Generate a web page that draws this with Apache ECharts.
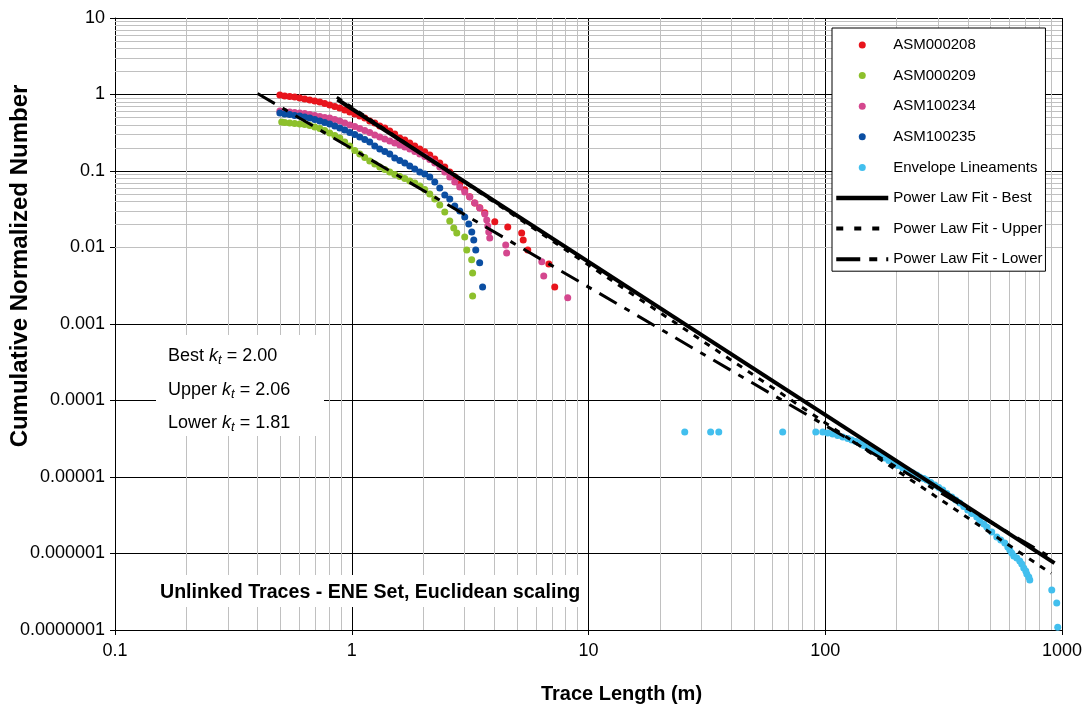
<!DOCTYPE html>
<html>
<head>
<meta charset="utf-8">
<title>Unlinked Traces - ENE Set, Euclidean scaling</title>
<script src="https://cdn.jsdelivr.net/npm/echarts@6.0.0/dist/echarts.min.js"></script>
<style>
  html, body { margin: 0; padding: 0; background: #fff; }
  #chart { width: 1084px; height: 709px; }
</style>
</head>
<body>
<div id="chart"></div>
<script>
// tick labels
const xTickLabels = ['0.1', '1', '10', '100', '1000']
const yTickLabels = ['0.0000001', '0.000001', '0.00001', '0.0001', '0.001', '0.01', '0.1', '1', '10']

// [trace length (m), cumulative normalized number]
const asm000208 = [
  [0.497, 0.985], [0.521, 0.956], [0.547, 0.94], [0.574, 0.928], [0.603, 0.90], [0.633, 0.873],
  [0.665, 0.847], [0.698, 0.822], [0.733, 0.798], [0.769, 0.763], [0.807, 0.729], [0.848, 0.697],
  [0.89, 0.666], [0.934, 0.627], [0.981, 0.59], [1.03, 0.556], [1.081, 0.523], [1.135, 0.493],
  [1.191, 0.45], [1.251, 0.424], [1.313, 0.388], [1.379, 0.365], [1.447, 0.334], [1.519, 0.305],
  [1.595, 0.271], [1.675, 0.255], [1.758, 0.233], [1.846, 0.213], [1.938, 0.194], [2.034, 0.178],
  [2.136, 0.162], [2.242, 0.144], [2.354, 0.127], [2.471, 0.113], [2.594, 0.0973], [2.723, 0.0838],
  [2.859, 0.0679], [3.001, 0.0567], [3.151, 0.046], [3.308, 0.0383], [3.473, 0.033], [3.646, 0.0284],
  [4.02, 0.0217], [4.56, 0.0186], [5.22, 0.0155], [5.3, 0.0125], [5.54, 0.0093], [6.8, 0.0061], [7.2, 0.00305]
]
const asm000209 = [
  [0.506, 0.437], [0.521, 0.4305], [0.547, 0.4241], [0.574, 0.4177], [0.603, 0.4115], [0.633, 0.4054],
  [0.665, 0.3934], [0.698, 0.376], [0.733, 0.3594], [0.769, 0.3384], [0.807, 0.3139], [0.848, 0.2911],
  [0.89, 0.27], [0.934, 0.2393], [0.981, 0.2123], [1.03, 0.1854], [1.081, 0.1669], [1.135, 0.1501],
  [1.191, 0.1351], [1.251, 0.1234], [1.313, 0.1128], [1.379, 0.1046], [1.447, 0.097], [1.519, 0.09],
  [1.595, 0.0847], [1.675, 0.0798], [1.758, 0.074], [1.846, 0.0697], [1.938, 0.0637], [2.034, 0.0573],
  [2.136, 0.05], [2.242, 0.0431], [2.354, 0.0359], [2.471, 0.0291], [2.594, 0.0222], [2.697, 0.018],
  [2.777, 0.0155],
  [3.0, 0.0137], [3.06, 0.0093], [3.21, 0.0069], [3.24, 0.00464], [3.24, 0.00232]
]
const asm100234 = [
  [0.497, 0.6086], [0.521, 0.5996], [0.547, 0.5906], [0.574, 0.5817], [0.603, 0.5731], [0.633, 0.5645],
  [0.665, 0.5477], [0.698, 0.5314], [0.733, 0.5157], [0.769, 0.5004], [0.807, 0.493], [0.848, 0.4712],
  [0.89, 0.4504], [0.934, 0.4241], [0.981, 0.3994], [1.03, 0.3817], [1.081, 0.3594], [1.135, 0.3384],
  [1.191, 0.3187], [1.251, 0.2955], [1.313, 0.2783], [1.379, 0.262], [1.447, 0.2467], [1.519, 0.2323],
  [1.595, 0.2188], [1.675, 0.206], [1.758, 0.194], [1.846, 0.1798], [1.938, 0.1669], [2.034, 0.1547],
  [2.136, 0.1413], [2.242, 0.1272], [2.354, 0.1128], [2.471, 0.097], [2.594, 0.0835], [2.723, 0.0718],
  [2.859, 0.0618], [3.001, 0.0531], [3.151, 0.0457], [3.308, 0.0382], [3.473, 0.0328], [3.646, 0.0274],
  [3.717, 0.0229], [3.753, 0.0191], [3.79, 0.0159], [3.827, 0.0133],
  [4.47, 0.0108], [4.51, 0.0085], [6.35, 0.0065], [6.47, 0.00424], [8.17, 0.0022]
]
const asm100235 = [
  [0.497, 0.5731], [0.521, 0.5559], [0.547, 0.5477], [0.574, 0.5314], [0.603, 0.5236], [0.633, 0.5081],
  [0.665, 0.493], [0.698, 0.4712], [0.733, 0.4504], [0.769, 0.4305], [0.807, 0.4115], [0.848, 0.3876],
  [0.89, 0.365], [0.934, 0.3436], [0.981, 0.3187], [1.03, 0.3001], [1.081, 0.2783], [1.135, 0.2581],
  [1.191, 0.2393], [1.251, 0.2123], [1.313, 0.194], [1.379, 0.1798], [1.447, 0.1669], [1.519, 0.1479],
  [1.595, 0.1372], [1.675, 0.1272], [1.758, 0.1162], [1.846, 0.1062], [1.938, 0.097], [2.034, 0.0913],
  [2.136, 0.0835], [2.242, 0.0718], [2.354, 0.0599], [2.471, 0.0486], [2.594, 0.0431], [2.723, 0.0349],
  [2.859, 0.03], [3.001, 0.025], [3.121, 0.0203], [3.213, 0.0159], [3.276, 0.0125],
  [3.34, 0.0093], [3.47, 0.0063], [3.57, 0.00305]
]
const envelopeLineaments = [
  [25.5, 3.875e-5], [32.8, 3.875e-5], [35.5, 3.875e-5], [66.1, 3.875e-5], [91.2, 3.875e-5],
  [97.6, 3.875e-5], [102.5, 3.76e-5], [107.6, 3.65e-5], [112.9, 3.49e-5], [118.6, 3.33e-5],
  [124.5, 3.19e-5], [129.4, 3.05e-5], [134.5, 2.91e-5], [139.9, 2.78e-5], [145.4, 2.58e-5],
  [151.2, 2.39e-5], [157.2, 2.22e-5], [165.1, 2.06e-5], [171.6, 1.91e-5], [178.4, 1.77e-5],
  [185.5, 1.64e-5], [192.8, 1.52e-5], [202.4, 1.41e-5], [212.5, 1.31e-5], [223.1, 1.22e-5],
  [234.2, 1.13e-5], [243.5, 1.06e-5], [250.7, 1.0e-5], [260.7, 9.56e-6], [268.4, 9.14e-6],
  [279.0, 8.47e-6], [290.1, 7.86e-6], [301.6, 7.29e-6], [313.6, 6.76e-6], [326.1, 6.09e-6],
  [342.3, 5.48e-6], [355.9, 5.0e-6], [370.0, 4.57e-6], [384.6, 4.12e-6], [399.9, 3.70e-6],
  [415.8, 3.33e-6], [436.5, 3.0e-6], [449.4, 2.66e-6], [467.2, 2.43e-6], [481.1, 2.22e-6],
  [505.1, 1.91e-6], [530.3, 1.64e-6], [551.3, 1.50e-6], [573.2, 1.37e-6], [590.2, 1.22e-6],
  [601.7, 1.11e-6], [613.5, 1.015e-6], [625.6, 9.28e-7], [644.1, 8.73e-7], [663.2, 7.98e-7],
  [676.1, 7.29e-7], [689.3, 6.46e-7], [703.1, 5.90e-7], [710.0, 5.40e-7], [724.0, 4.93e-7],
  [731.0, 4.50e-7], [905.2, 3.33e-7], [950.1, 2.25e-7], [959.4, 1.09e-7]
]

// power law fit end points
const fitBest = [[0.87, 0.86], [930, 7.5e-7]]
const fitUpper = [[0.865, 0.92], [900, 5.5e-7]]
const fitLower = [[0.40, 1.03], [920, 8.5e-7]]

const FONT = '"Liberation Sans", Arial, sans-serif'

// light grey lines at 2..9 of every decade
const minorX = []
for (let e = -1; e < 3; e++) for (let m = 2; m <= 9; m++) minorX.push({ xAxis: m * Math.pow(10, e) })
const minorY = []
for (let e = -7; e < 1; e++) for (let m = 2; m <= 9; m++) minorY.push({ yAxis: m * Math.pow(10, e) })

const chart = echarts.init(document.getElementById('chart'))

function scatter (name, data, color) {
  return { name, type: 'scatter', data, symbol: 'circle', symbolSize: 7, z: 3, itemStyle: { color, opacity: 1 } }
}
function fitLine (name, data, width, type) {
  return {
    name, type: 'line', data, symbol: 'none', z: 4,
    itemStyle: { color: '#000' },
    lineStyle: { color: '#000', width, type, cap: 'butt' }
  }
}
function fitLegend (name, width, type) {
  return { name, itemStyle: { opacity: 0 }, lineStyle: { color: '#000', width, type, cap: 'butt' } }
}

chart.setOption({
  animation: false,
  backgroundColor: '#fff',
  grid: { left: 115, right: 22, top: 18, bottom: 79, containLabel: false, outerBoundsMode: 'none' },
  xAxis: {
    type: 'log', logBase: 10, min: 0.1, max: 1000, splitNumber: 4,
    name: 'Trace Length (m)', nameLocation: 'middle', nameGap: 54, nameMoveOverlap: false,
    nameTextStyle: { fontFamily: FONT, fontSize: 20, fontWeight: 'bold', color: '#000', padding: [0, 0, 0, 66] },
    axisLine: { lineStyle: { color: '#000', width: 1 } },
    axisTick: { show: true, length: 5, lineStyle: { color: '#000' } },
    axisLabel: {
      margin: 12, fontFamily: FONT, fontSize: 18, color: '#000',
      formatter: v => xTickLabels[Math.round(Math.log10(v)) + 1]
    },
    splitLine: { show: true, lineStyle: { color: '#000', width: 1 } }
  },
  yAxis: {
    type: 'log', logBase: 10, min: 1e-7, max: 10, splitNumber: 8,
    name: 'Cumulative Normalized Number', nameLocation: 'middle', nameGap: 83, nameMoveOverlap: false,
    nameTextStyle: { fontFamily: FONT, fontSize: 24, fontWeight: 'bold', color: '#000', padding: [0, 0, 0, 116] },
    axisLine: { show: true, lineStyle: { color: '#000', width: 1 } },
    axisTick: { show: true, length: 5, lineStyle: { color: '#000' } },
    axisLabel: {
      margin: 10, fontFamily: FONT, fontSize: 18, color: '#000',
      formatter: v => yTickLabels[Math.round(Math.log10(v)) + 7]
    },
    splitLine: { show: true, lineStyle: { color: '#000', width: 1 } }
  },
  legend: {
    orient: 'vertical', left: 832, top: 28,
    padding: [9, 3, 4, 2],
    itemWidth: 52, itemHeight: 7, itemGap: 14.6,
    backgroundColor: '#fff', borderColor: '#000', borderWidth: 1,
    selectedMode: false,
    textStyle: { fontFamily: FONT, fontSize: 15, color: '#000', lineHeight: 16 },
    data: [
      { name: 'ASM000208', icon: 'circle' },
      { name: 'ASM000209', icon: 'circle' },
      { name: 'ASM100234', icon: 'circle' },
      { name: 'ASM100235', icon: 'circle' },
      { name: 'Envelope Lineaments', icon: 'circle' },
      fitLegend('Power Law Fit - Best', 4.5, 'solid'),
      fitLegend('Power Law Fit - Upper', 4, [7, 11]),
      fitLegend('Power Law Fit - Lower', 4, [24, 9, 8, 9])
    ]
  },
  series: [
    {
      name: 'minor grid', type: 'line', data: [], z: 1, silent: true,
      markLine: {
        z: 1, silent: true, symbol: ['none', 'none'], label: { show: false },
        lineStyle: { color: '#c0c0c0', width: 1, type: 'solid' },
        emphasis: { disabled: true },
        data: minorX.concat(minorY)
      }
    },
    scatter('ASM000208', asm000208, '#e8141c'),
    scatter('ASM000209', asm000209, '#8dc02c'),
    scatter('ASM100234', asm100234, '#d4478e'),
    scatter('ASM100235', asm100235, '#0b4ea2'),
    scatter('Envelope Lineaments', envelopeLineaments, '#42bfee'),
    fitLine('Power Law Fit - Best', fitBest, 4, 'solid'),
    fitLine('Power Law Fit - Upper', fitUpper, 3, [6, 7]),
    fitLine('Power Law Fit - Lower', fitLower, 3, [20, 9, 6, 9])
  ],
  graphic: [
    { type: 'rect', z: 100, shape: { x: 156, y: 335, width: 168, height: 101 }, style: { fill: '#fff' } },
    { type: 'rect', z: 100, shape: { x: 155, y: 575, width: 433, height: 32 }, style: { fill: '#fff' } },
    {
      type: 'text', z: 101, x: 160, y: 593,
      style: { text: 'Unlinked Traces - ENE Set, Euclidean scaling', font: 'bold 19.6px ' + FONT, fill: '#000', verticalAlign: 'middle' }
    }
  ].concat([['Best', '2.00', 356], ['Upper', '2.06', 390], ['Lower', '1.81', 423]].map(r => ({
    type: 'text', z: 101, x: 168, y: r[2],
    style: {
      text: '{n|' + r[0] + ' }{k|k}{s|t}{n| = ' + r[1] + '}',
      verticalAlign: 'middle',
      rich: {
        n: { fontFamily: FONT, fontSize: 18, fill: '#000' },
        k: { fontFamily: FONT, fontSize: 18, fontStyle: 'italic', fill: '#000' },
        s: { fontFamily: FONT, fontSize: 13, fontStyle: 'italic', fill: '#000', padding: [9, 0, 0, 0] }
      }
    }
  })))
})
</script>
</body>
</html>
